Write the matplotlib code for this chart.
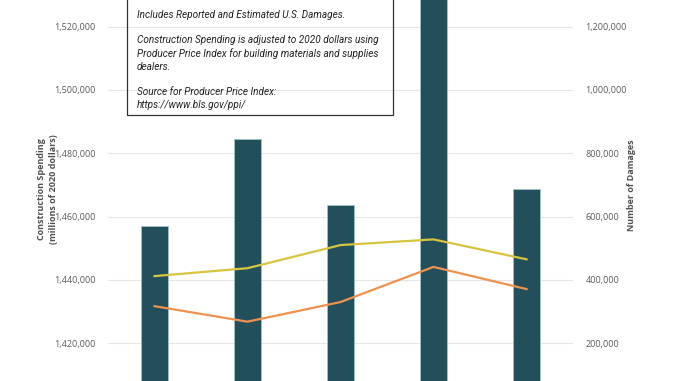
import matplotlib.pyplot as plt
from matplotlib.patches import Rectangle
from matplotlib.ticker import FuncFormatter

# Data (values per year, left to right)
years = ['2016', '2017', '2018', '2019', '2020']
damages = [570000, 845000, 638000, 1330000, 688000]
spending_a = [1441200, 1443700, 1451000, 1452800, 1446500]   # yellow line
spending_b = [1431700, 1426800, 1433000, 1444100, 1437100]   # orange line

left_ticks = [1420000, 1440000, 1460000, 1480000, 1500000, 1520000]
right_ticks = [200000, 400000, 600000, 800000, 1000000, 1200000]

note = ("Includes Reported and Estimated U.S. Damages.\n\n"
        "Construction Spending is adjusted to 2020 dollars using\n"
        "Producer Price Index for building materials and supplies\n"
        "dealers.\n\n"
        "Source for Producer Price Index:\n"
        "https://www.bls.gov/ppi/")

plt.rcParams['font.family'] = ['Open Sans', 'DejaVu Sans']
tick_col = '#595959'

W, H = 678, 381
fig = plt.figure(figsize=(W / 100, H / 100), dpi=100)

# axes is larger than the figure: the original picture is a crop
ax = fig.add_axes([108 / W, (H - 406.5) / H, 465 / W, 443.1 / H])
ax2 = ax.twinx()

x = range(len(years))
ax2.bar(x, damages, width=0.285, color='#234f5b', edgecolor='#9fc3cc', linewidth=0.6, zorder=3)
ax2.set_ylim(0, 1400000)
ax2.set_yticks(right_ticks)
ax2.grid(axis='y', color='#e6e6e6', linewidth=0.8, zorder=0)
ax2.set_axisbelow(True)

ax.plot(x, spending_a, color='#d8c440', linewidth=1.6, zorder=4)
ax.plot(x, spending_b, color='#ef9250', linewidth=1.6, zorder=4)
ax.set_ylim(1400000, 1540000)
ax.set_yticks(left_ticks)
ax.set_xlim(-0.5, 4.5)
ax.set_xticks([])

ax.set_zorder(ax2.get_zorder() + 1)
ax.patch.set_visible(False)

fmt = FuncFormatter(lambda v, p: f'{v:,.0f}')
for a in (ax, ax2):
    a.yaxis.set_major_formatter(fmt)
    a.tick_params(axis='y', length=0, labelsize=6.5, labelcolor=tick_col, pad=9)
    for s in a.spines.values():
        s.set_visible(False)

ax.set_ylabel('Construction Spending\n(millions of 2020 dollars)', fontsize=6.5, color='#505050',
              fontweight='bold', linespacing=1.45)
ax.yaxis.set_label_coords(-0.108, 0.49)
ax2.set_ylabel('Number of Damages', fontsize=6.5, color='#505050', fontweight='bold')
ax2.yaxis.set_label_coords(1.116, 0.5)

# note box (top edge runs off the picture)
fig.patches.append(Rectangle((127 / W, (H - 115) / H), 266 / W, 0.5,
                             transform=fig.transFigure, facecolor='none',
                             edgecolor='#333333', linewidth=0.9, zorder=10))
fig.text(137 / W, (H - 10) / H, note, fontsize=7.2, style='italic', color='#222222',
         va='top', ha='left', linespacing=1.33, family=['Roboto', 'DejaVu Sans'])

fig.savefig('out.png', dpi=100)
